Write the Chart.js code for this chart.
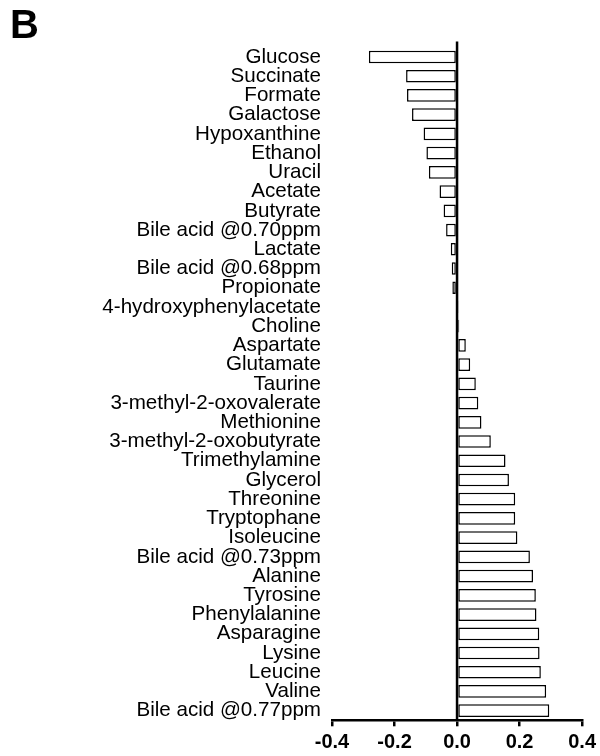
<!DOCTYPE html>
<html>
<head>
<meta charset="utf-8">
<title>Metabolite correlation</title>
<script src="https://cdn.jsdelivr.net/npm/chart.js@4.4.1/dist/chart.umd.min.js"></script>
<style>
  html, body { margin: 0; padding: 0; background: #fff; }
  #wrap { width: 600px; height: 756px; }
</style>
</head>
<body>
<div id="wrap"><canvas id="chart" width="600" height="756"></canvas></div>
<script>
// Metabolites, top to bottom
const metabolites = [
  'Glucose', 'Succinate', 'Formate', 'Galactose', 'Hypoxanthine', 'Ethanol',
  'Uracil', 'Acetate', 'Butyrate', 'Bile acid @0.70ppm', 'Lactate',
  'Bile acid @0.68ppm', 'Propionate', '4-hydroxyphenylacetate', 'Choline',
  'Aspartate', 'Glutamate', 'Taurine', '3-methyl-2-oxovalerate', 'Methionine',
  '3-methyl-2-oxobutyrate', 'Trimethylamine', 'Glycerol', 'Threonine',
  'Tryptophane', 'Isoleucine', 'Bile acid @0.73ppm', 'Alanine', 'Tyrosine',
  'Phenylalanine', 'Asparagine', 'Lysine', 'Leucine', 'Valine',
  'Bile acid @0.77ppm'
];

// Coefficient for each metabolite
const coefficients = [
  -0.282, -0.163, -0.160, -0.144, -0.107, -0.098,
  -0.090, -0.056, -0.043, -0.035, -0.020,
  -0.017, -0.015, 0.002, 0.007,
  0.028, 0.042, 0.060, 0.068, 0.078,
  0.108, 0.155, 0.166, 0.186,
  0.186, 0.193, 0.233, 0.243, 0.252,
  0.254, 0.263, 0.264, 0.268, 0.285,
  0.295
];

// Axis tick values
const xTicks = [-0.4, -0.2, 0.0, 0.2, 0.4];

const FONT = "'Liberation Sans', Arial, Helvetica, sans-serif";

// Vertical line at zero plus the panel letter
const extras = {
  id: 'extras',
  afterDatasetsDraw(chart) {
    const { ctx, chartArea, scales } = chart;
    const x0 = scales.x.getPixelForValue(0);
    ctx.save();
    ctx.strokeStyle = '#000';
    ctx.lineWidth = 2.5;
    ctx.beginPath();
    ctx.moveTo(x0, chartArea.top - 6);
    ctx.lineTo(x0, chartArea.bottom);
    ctx.stroke();
    ctx.fillStyle = '#000';
    ctx.font = 'bold 40px ' + FONT;
    ctx.textAlign = 'left';
    ctx.textBaseline = 'alphabetic';
    ctx.fillText('B', 10, 38);
    ctx.restore();
  }
};

new Chart(document.getElementById('chart'), {
  type: 'bar',
  data: {
    labels: metabolites,
    datasets: [{
      data: coefficients,
      backgroundColor: '#ffffff',
      borderColor: '#000000',
      borderWidth: 1.5,
      borderSkipped: false,
      categoryPercentage: 1.0,
      barPercentage: 0.66
    }]
  },
  options: {
    indexAxis: 'y',
    responsive: false,
    animation: false,
    layout: { padding: { top: 47.4, right: 15.7, bottom: 0, left: 0 } },
    plugins: {
      legend: { display: false },
      tooltip: { enabled: false }
    },
    scales: {
      x: {
        type: 'linear',
        min: -0.4,
        max: 0.4,
        afterBuildTicks(scale) {
          scale.ticks = xTicks.map(v => ({ value: v }));
        },
        afterFit(scale) { scale.height = 35.7; },
        grid: {
          drawOnChartArea: false,
          drawTicks: true,
          tickLength: 6,
          color: '#000',
          lineWidth: 2.5
        },
        border: { display: true, color: '#000', width: 2.5 },
        ticks: {
          padding: 4,
          color: '#000',
          font: { family: FONT, size: 20, weight: 'bold' },
          callback: v => Number(v).toFixed(1)
        }
      },
      y: {
        afterFit(scale) { scale.width = 332; },
        grid: { display: false, drawTicks: false },
        border: { display: false },
        ticks: {
          padding: 11,
          autoSkip: false,
          color: '#000',
          font: { family: FONT, size: 20.6 }
        }
      }
    }
  },
  plugins: [extras]
});
</script>
</body>
</html>
